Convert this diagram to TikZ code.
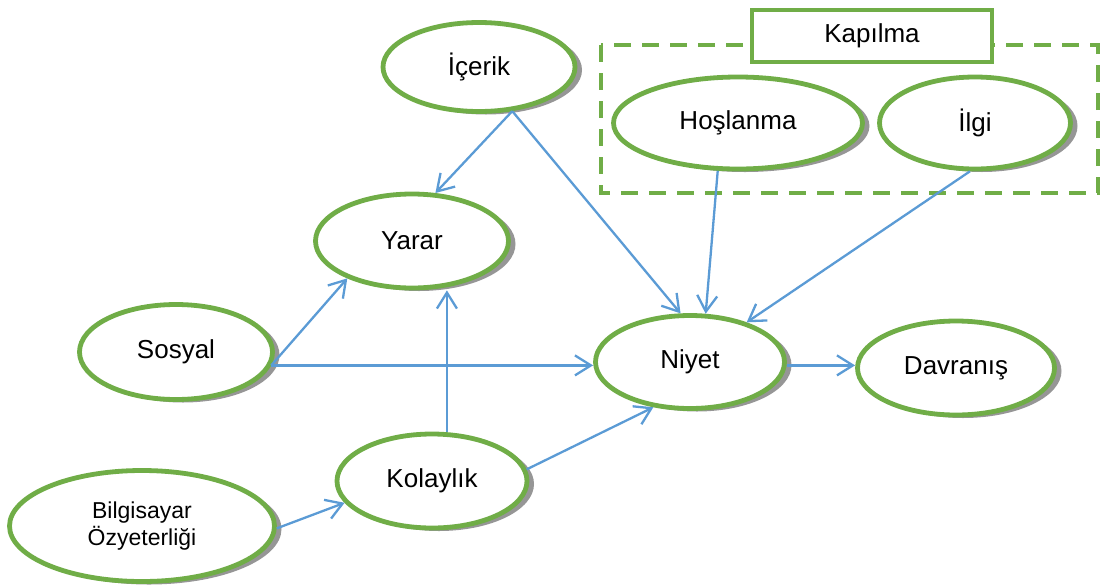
\documentclass[tikz,border=0pt]{standalone}
\usepackage{fontspec}
\setmainfont{Liberation Sans}
\usetikzlibrary{shapes.geometric,arrows.meta,shadows}
\definecolor{lgreen}{HTML}{70AD47}
\definecolor{lblue}{HTML}{5B9BD5}
\definecolor{shgray}{HTML}{969696}
\tikzset{
  concept/.style={ellipse, draw=lgreen, line width=4.8pt, fill=white, inner sep=0pt,
    font=\fontsize{26}{30}\selectfont,
    general shadow={shadow xshift=7pt, shadow yshift=-3pt, fill=shgray}},
  link/.style={draw=lblue, line width=2.3pt, -{Straight Barb[length=16pt,width=20pt,line width=2.3pt]}},
  groupbox/.style={draw=lgreen, line width=4.8pt, dash pattern=on 17pt off 11pt},
  titlebox/.style={draw=lgreen, line width=4.8pt, fill=white, inner sep=0pt,
    minimum width=240pt, minimum height=52pt, font=\fontsize{26}{30}\selectfont}
}
\begin{document}
\begin{tikzpicture}[x=1pt,y=-1pt]
\useasboundingbox (0,0) rectangle (1100,587);
% group frame
\draw[groupbox] (601,45) rectangle (1098,193);
\node[titlebox] (kapilma) at (872,36) {Kapılma};
% concepts
\node[concept, minimum width=192pt, minimum height=89pt] (icerik) at (479,67) {İçerik};
\node[concept, minimum width=249pt, minimum height=92pt] (hoslanma) at (738,123) {Hoşlanma};
\node[concept, minimum width=191pt, minimum height=92pt] (ilgi) at (975,123) {İlgi};
\node[concept, minimum width=193pt, minimum height=94pt] (yarar) at (412,241) {Yarar};
\node[concept, minimum width=193pt, minimum height=95pt] (sosyal) at (176,352) {Sosyal};
\node[concept, minimum width=189pt, minimum height=93pt] (niyet) at (690,362) {Niyet};
\node[concept, minimum width=197pt, minimum height=94pt] (davranis) at (956,368) {Davranış};
\node[concept, minimum width=190pt, minimum height=94pt] (kolaylik) at (432,481) {Kolaylık};
\node[concept, minimum width=265pt, minimum height=111pt, align=center,
      font=\fontsize{23}{27}\selectfont] (bilgisayar) at (142,526) {Bilgisayar\\Özyeterliği};
% connectors
\draw[link] (icerik.-53) -- (yarar.64);
\draw[link] (icerik.-53) -- (niyet.101);
\draw[link] (hoslanma.247) -- (niyet.72);
\draw[link] (ilgi.264) -- (niyet.35);
\draw[link] (sosyal.-8) -- (yarar.210);
\draw[link] (sosyal.-8) -- (sosyal.-8 -| niyet.west);
\draw[link] (kolaylik.73) -- (kolaylik.73 |- yarar.south);
\draw[link] (kolaylik.7) -- (niyet.231);
\draw[link] (bilgisayar.-1) -- (kolaylik.194);
\draw[link] (niyet.-2) -- (niyet.-2 -| davranis.west);
\end{tikzpicture}
\end{document}
